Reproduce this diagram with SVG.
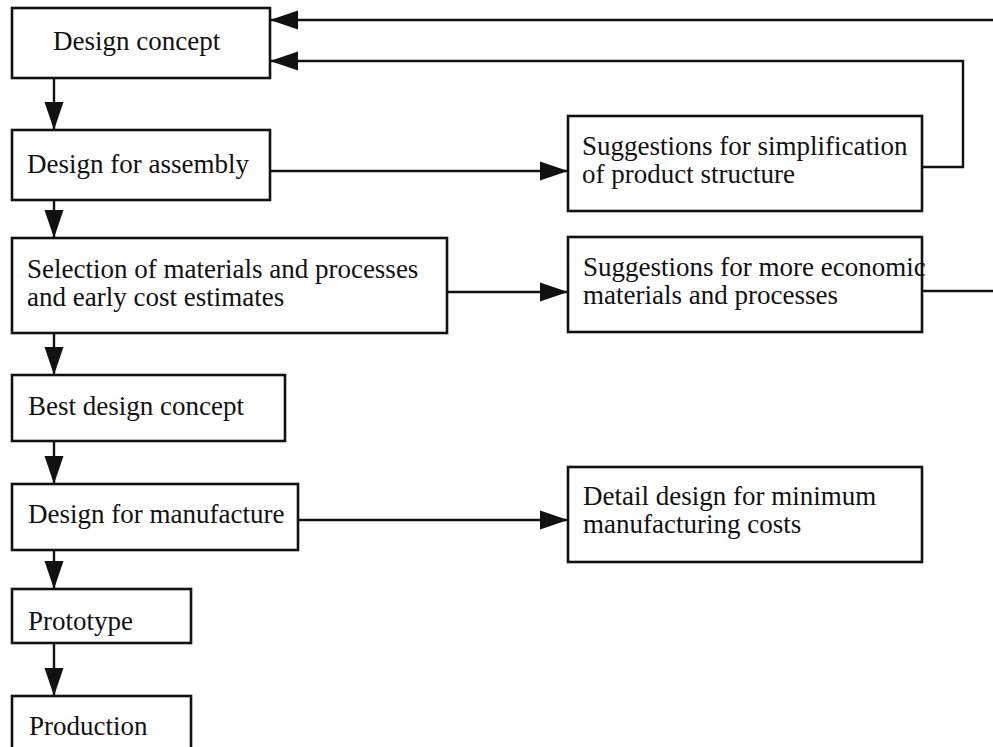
<svg xmlns="http://www.w3.org/2000/svg" width="993" height="747" viewBox="0 0 993 747">
<style>
.box{fill:#fff;stroke:#111;stroke-width:2.6}
.t{font-family:"Liberation Serif","Times New Roman",serif;font-size:27px;fill:#111}
.c{fill:none;stroke:#111;stroke-width:2.4}
</style>
<defs>
<marker id="ah" markerUnits="userSpaceOnUse" markerWidth="28" markerHeight="20" refX="28" refY="10" orient="auto">
<path d="M0,0.5 L28,10 L0,19.5 z" fill="#111"/>
</marker>
</defs>
<rect width="993" height="747" fill="#fff"/>
<g id="connectors">
<line class="c" x1="54" y1="78" x2="54" y2="130" marker-end="url(#ah)"/>
<line class="c" x1="54" y1="200" x2="54" y2="238" marker-end="url(#ah)"/>
<line class="c" x1="54" y1="333" x2="54" y2="375" marker-end="url(#ah)"/>
<line class="c" x1="54" y1="441" x2="54" y2="484" marker-end="url(#ah)"/>
<line class="c" x1="54" y1="550" x2="54" y2="589" marker-end="url(#ah)"/>
<line class="c" x1="54" y1="643" x2="54" y2="696" marker-end="url(#ah)"/>
<line class="c" x1="270" y1="171" x2="568" y2="171" marker-end="url(#ah)"/>
<line class="c" x1="447" y1="292" x2="568" y2="292" marker-end="url(#ah)"/>
<line class="c" x1="298" y1="520" x2="568" y2="520" marker-end="url(#ah)"/>
<path class="c" d="M922,167 H963 V61 H270" marker-end="url(#ah)"/>
<path class="c" d="M922,291 H1000 V20 H270" marker-end="url(#ah)"/>
</g>
<g id="design-concept"><rect class="box" x="12" y="8" width="258" height="70"/><text class="t" x="53" y="50">Design concept</text></g>
<g id="design-for-assembly"><rect class="box" x="12" y="130" width="258" height="70"/><text class="t" x="27" y="173">Design for assembly</text></g>
<g id="selection"><rect class="box" x="12" y="238" width="435" height="95"/><text class="t" x="27" y="278">Selection of materials and processes</text><text class="t" x="27" y="306">and early cost estimates</text></g>
<g id="best-design-concept"><rect class="box" x="12" y="375" width="273" height="66"/><text class="t" x="28" y="415">Best design concept</text></g>
<g id="design-for-manufacture"><rect class="box" x="12" y="484" width="286" height="66"/><text class="t" x="28" y="523">Design for manufacture</text></g>
<g id="prototype"><rect class="box" x="12" y="589" width="179" height="54"/><text class="t" x="28" y="630">Prototype</text></g>
<g id="production"><rect class="box" x="12" y="696" width="179" height="64"/><text class="t" x="29" y="735">Production</text></g>
<g id="simplification"><rect class="box" x="568" y="116" width="354" height="95"/><text class="t" x="582" y="155">Suggestions for simplification</text><text class="t" x="582" y="183">of product structure</text></g>
<g id="economic"><rect class="box" x="568" y="237" width="354" height="95"/><text class="t" x="583" y="276">Suggestions for more economic</text><text class="t" x="583" y="304">materials and processes</text></g>
<g id="detail-design"><rect class="box" x="568" y="467" width="354" height="95"/><text class="t" x="583" y="505">Detail design for minimum</text><text class="t" x="583" y="533">manufacturing costs</text></g>
</svg>
